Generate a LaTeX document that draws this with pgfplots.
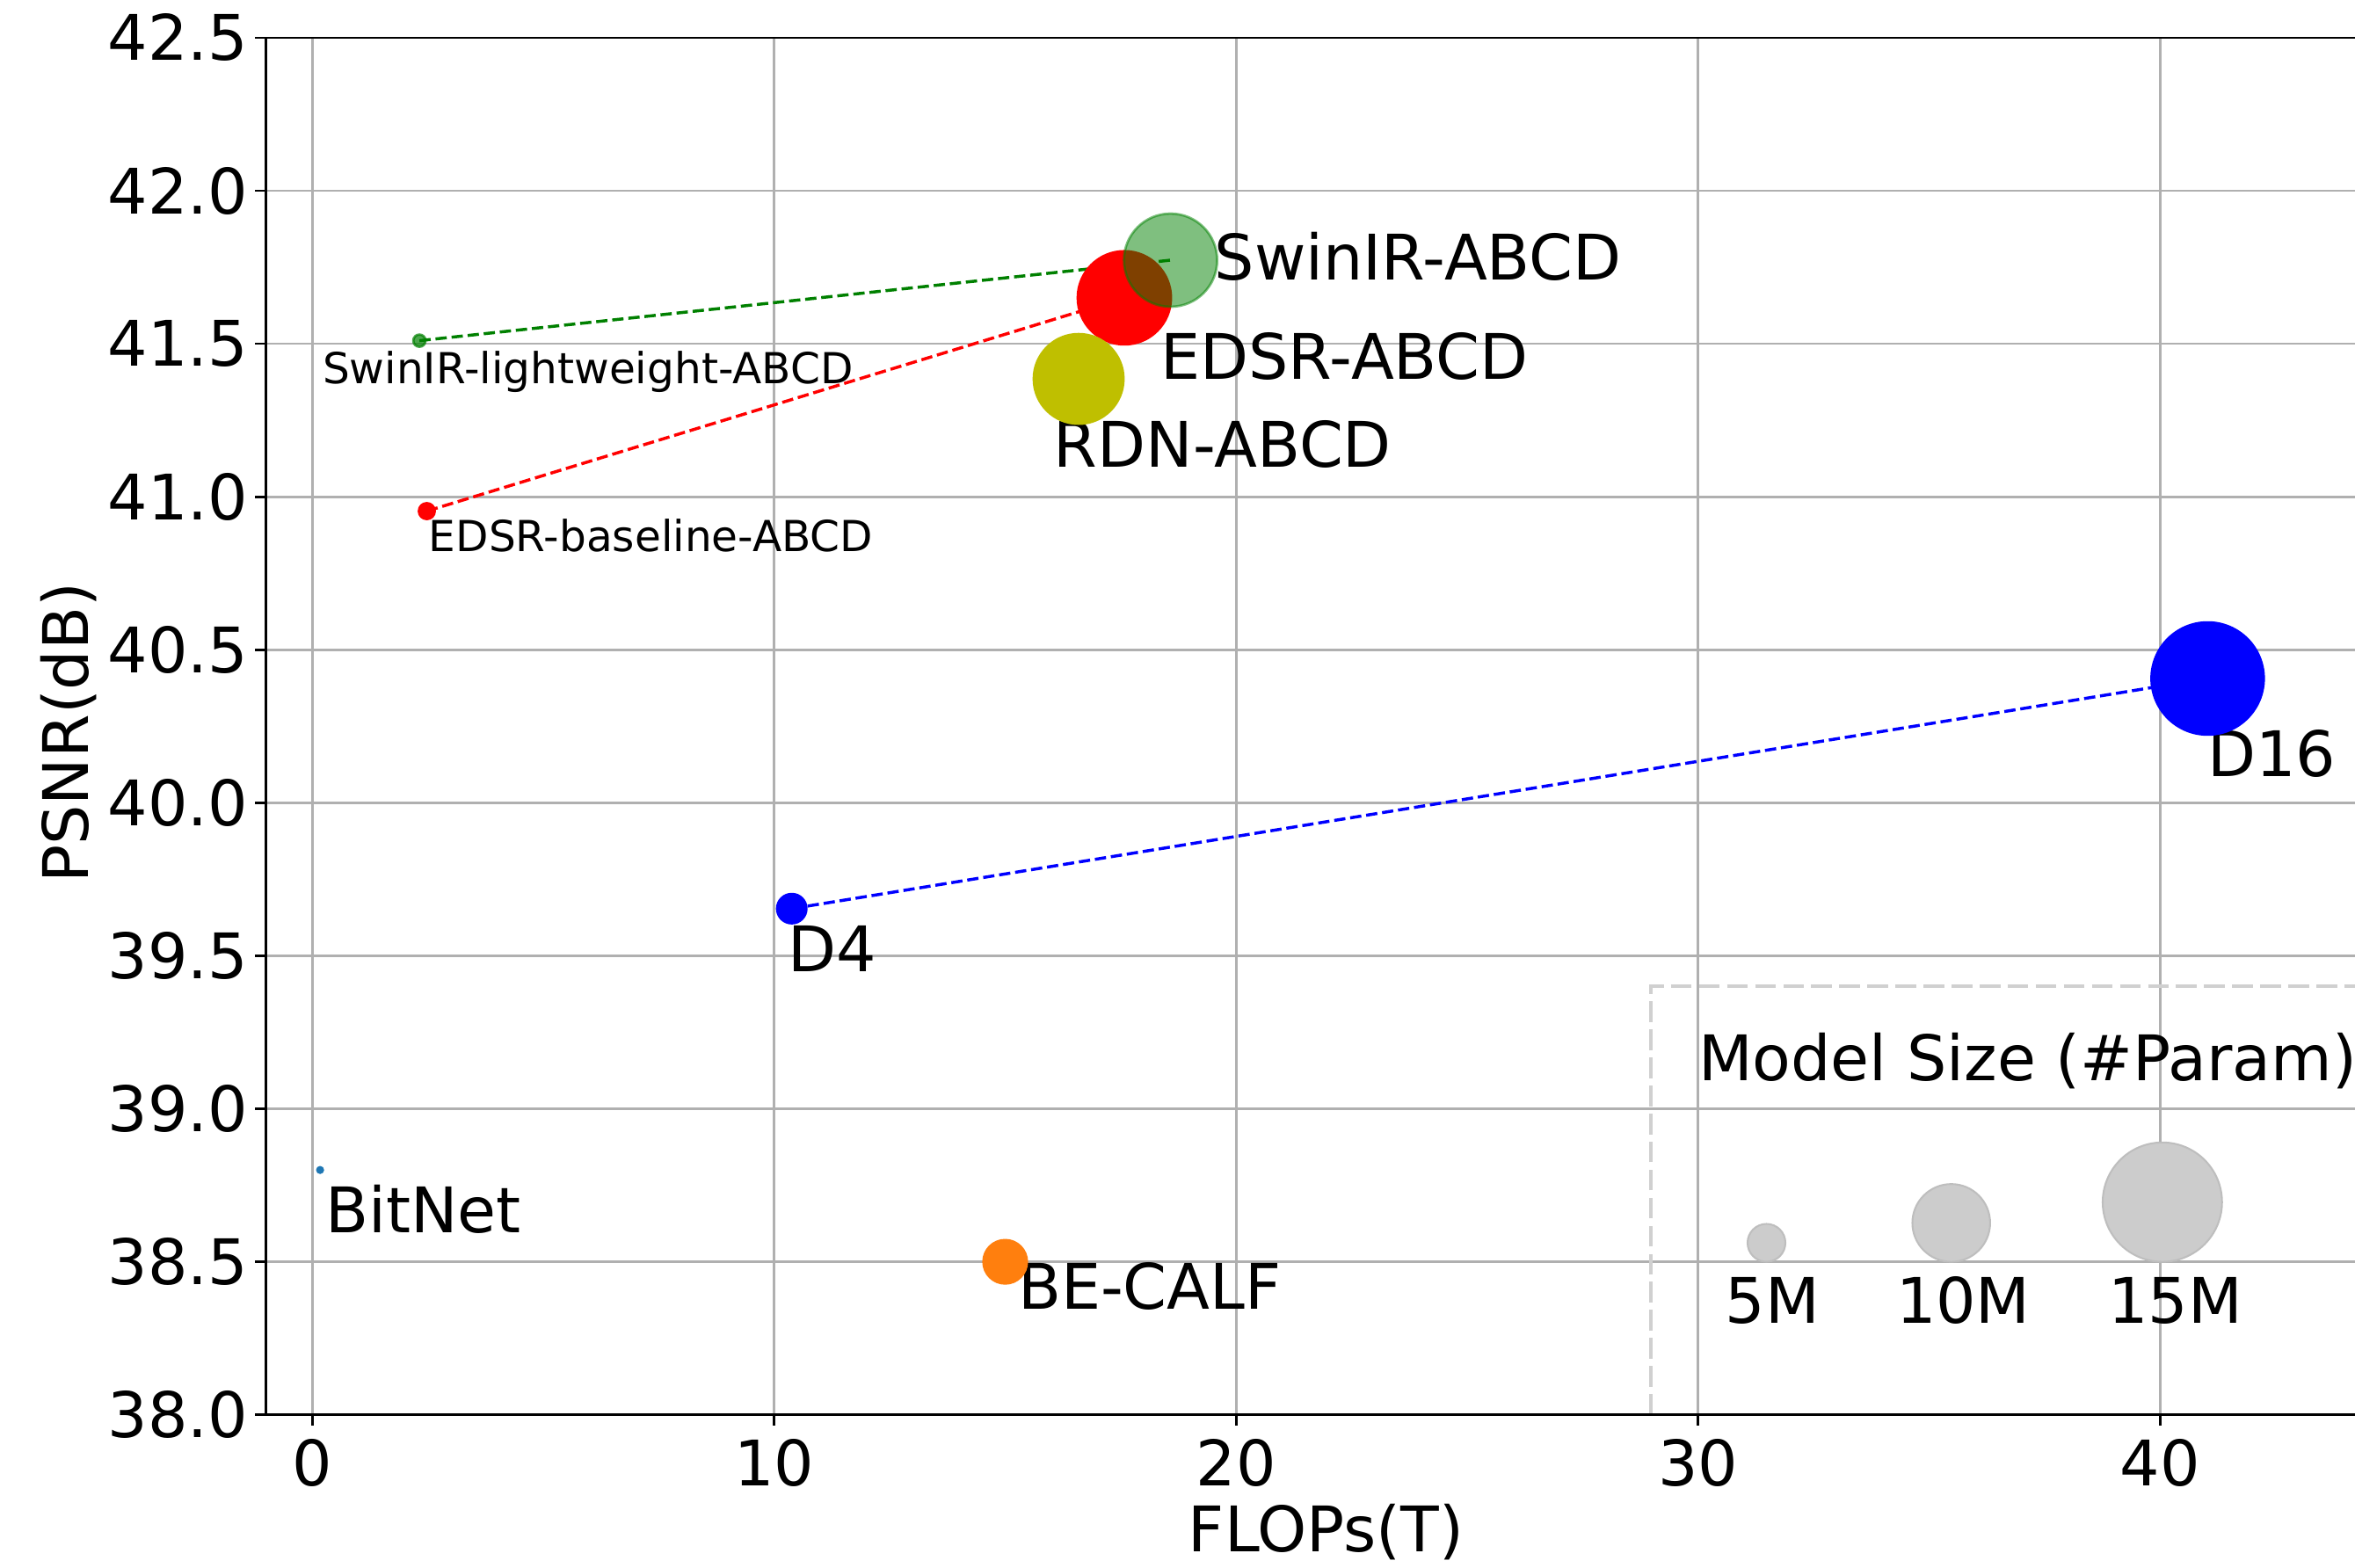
\documentclass[border=0pt]{standalone}
\usepackage{fontspec}
\setmainfont{DejaVu Sans}
\usepackage{pgfplots}
\pgfplotsset{compat=1.18}
\definecolor{gridc}{RGB}{176,176,176}
\definecolor{mplgreen}{RGB}{0,128,0}
\definecolor{mplolive}{RGB}{191,191,0}
\definecolor{tabblue}{RGB}{31,119,180}
\definecolor{taborange}{RGB}{255,127,14}
\definecolor{legfill}{RGB}{204,204,204}
\definecolor{legedge}{RGB}{190,190,190}
\definecolor{boxc}{RGB}{208,208,208}
\newcommand{\fbig}{\fontsize{10.3}{12.4}\selectfont}
\newcommand{\fsmall}{\fontsize{7.0}{8.4}\selectfont}
\begin{document}
\begin{tikzpicture}
\begin{axis}[
  at={(0,0)}, anchor=south west,
  scale only axis, width=342.5pt, height=225.8pt,
  xmin=-1.005, xmax=44.22, ymin=38, ymax=42.5,
  xtick={0,10,20,30,40},
  ytick={38,38.5,39,39.5,40,40.5,41,41.5,42,42.5},
  yticklabel style={/pgf/number format/fixed, /pgf/number format/fixed zerofill, /pgf/number format/precision=1},
  /pgf/number format/assume math mode=true,
  grid=major, major grid style={gridc, line width=0.4pt},
  axis line style={draw=none},
  tick pos=left, tick align=outside, major tick length=1.75pt,
  every tick/.style={black, line width=0.4pt},
  tick label style={font=\fbig, inner sep=0pt},
  xticklabel shift=2.0pt, yticklabel shift=1.0pt,
  clip=false,
  xlabel={FLOPs(T)}, ylabel={PSNR(dB)},
  label style={font=\fbig},
  xlabel style={at={(axis description cs:0.5075,-0.0849)}, anchor=center},
  ylabel style={at={(axis description cs:-0.0943,0.4953)}, anchor=center},
]
% legend frame
\draw[boxc, line width=0.6pt, dash pattern=on 3.4pt off 1.2pt] (axis cs:28.97,38) -- (axis cs:28.97,39.4) -- (axis cs:46,39.4);

% BitNet
\addplot[only marks, mark=*, mark size=0.45pt, color=tabblue] coordinates {(0.17,38.80)};
% BE-CALF
\addplot[only marks, mark=*, mark size=3.56pt, color=taborange] coordinates {(15.0,38.50)};
% D4, D16
\addplot[only marks, mark=*, mark size=2.4pt, color=blue] coordinates {(10.38,39.654)};
\addplot[only marks, mark=*, mark size=9.2pt, color=blue] coordinates {(41.03,40.406)};
\addplot[blue, line width=0.5pt, dash pattern=on 1.85pt off 0.8pt] coordinates {(10.38,39.654) (41.03,40.406)};
% EDSR
\addplot[only marks, mark=*, mark size=1.3pt, color=red] coordinates {(2.48,40.953)};
\addplot[only marks, mark=*, mark size=7.64pt, color=red] coordinates {(17.58,41.650)};
\addplot[red, line width=0.5pt, dash pattern=on 1.85pt off 0.8pt] coordinates {(2.48,40.953) (17.58,41.650)};
% RDN
\addplot[only marks, mark=*, mark size=7.35pt, color=mplolive] coordinates {(16.59,41.385)};
% SwinIR
\addplot[only marks, mark=*, mark size=1.0pt, color=mplgreen, mark options={fill opacity=0.7, draw opacity=0.7}] coordinates {(2.32,41.51)};
\addplot[mplgreen, line width=0.5pt, dash pattern=on 1.85pt off 0.8pt] coordinates {(2.32,41.51) (18.58,41.773)};
\addplot[only marks, mark=*, mark size=7.64pt, color=mplgreen, mark options={fill opacity=0.5, draw opacity=0.5}] coordinates {(18.58,41.773)};

% size legend bubbles
\addplot[only marks, mark=*, mark size=3.1pt, mark options={fill=legfill, draw=legedge, line width=0.3pt}] coordinates {(31.48,38.562)};
\addplot[only marks, mark=*, mark size=6.37pt, mark options={fill=legfill, draw=legedge, line width=0.3pt}] coordinates {(35.48,38.627)};
\addplot[only marks, mark=*, mark size=9.78pt, mark options={fill=legfill, draw=legedge, line width=0.3pt}] coordinates {(40.05,38.695)};

% spines
\draw[black, line width=0.4pt] (rel axis cs:0,1) -- (rel axis cs:0,0) -- (rel axis cs:1,0);
\draw[black, line width=0.4pt] (rel axis cs:0,1) -- (rel axis cs:1,1);

% labels
\node[font=\fbig, anchor=base west, inner sep=0pt] at (axis cs:19.51,41.707) {SwinIR-ABCD};
\node[font=\fbig, anchor=base west, inner sep=0pt] at (axis cs:18.34,41.383) {EDSR-ABCD};
\node[font=\fbig, anchor=base west, inner sep=0pt] at (axis cs:16.03,41.098) {RDN-ABCD};
\node[font=\fsmall, anchor=base west, inner sep=0pt] at (axis cs:0.20,41.369) {SwinIR-lightweight-ABCD};
\node[font=\fsmall, anchor=base west, inner sep=0pt] at (axis cs:2.50,40.820) {EDSR-baseline-ABCD};
\node[font=\fbig, anchor=base west, inner sep=0pt] at (axis cs:41.0,40.086) {D16};
\node[font=\fbig, anchor=base west, inner sep=0pt] at (axis cs:10.27,39.447) {D4};
\node[font=\fbig, anchor=base west, inner sep=0pt] at (axis cs:0.26,38.596) {BitNet};
\node[font=\fbig, anchor=base west, inner sep=0pt] at (axis cs:15.25,38.346) {BE-CALF};
\node[font=\fbig, anchor=base west, inner sep=0pt] at (axis cs:29.98,39.091) {Model Size (\#Param)};
\node[font=\fbig, anchor=base, inner sep=0pt] at (axis cs:31.61,38.298) {5M};
\node[font=\fbig, anchor=base, inner sep=0pt] at (axis cs:35.74,38.298) {10M};
\node[font=\fbig, anchor=base, inner sep=0pt] at (axis cs:40.33,38.298) {15M};
\end{axis}
\pgfresetboundingbox
\path (-43.58pt,-25.06pt) rectangle (342.5pt,231.98pt);
\end{tikzpicture}
\end{document}
